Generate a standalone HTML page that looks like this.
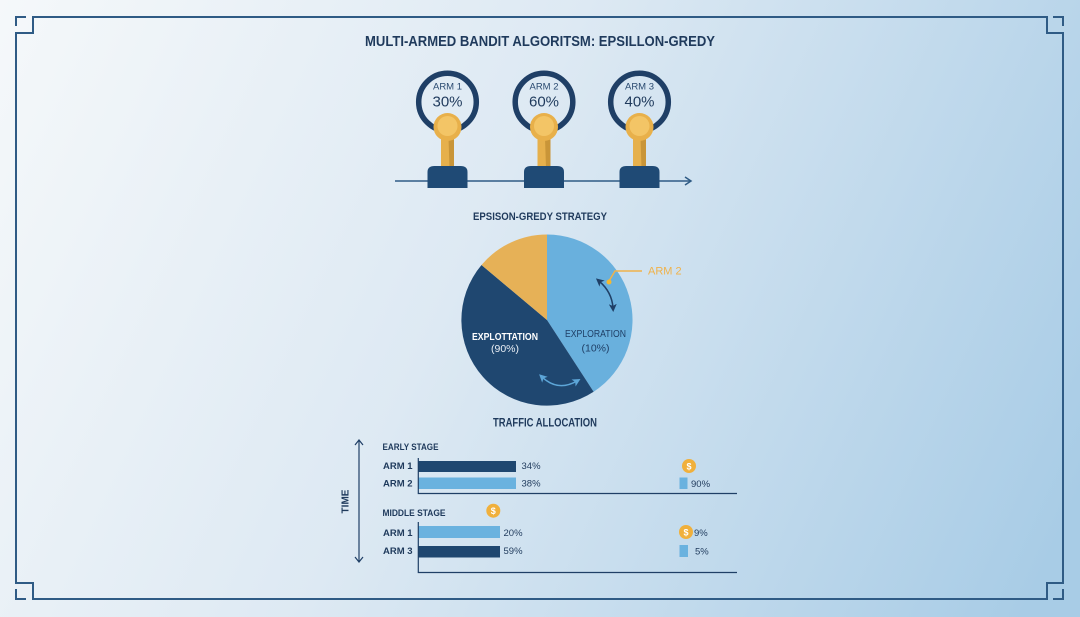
<!DOCTYPE html>
<html><head><meta charset="utf-8"><style>
html,body{margin:0;padding:0;width:1080px;height:617px;overflow:hidden}
svg{display:block}
text{font-family:"Liberation Sans",sans-serif}
</style></head><body>
<svg width="1080" height="617" viewBox="0 0 1080 617" xmlns="http://www.w3.org/2000/svg">
<defs>
<linearGradient id="bg" gradientUnits="userSpaceOnUse" x1="0" y1="0" x2="1080" y2="500">
<stop offset="0" stop-color="#f5f8fa"/>
<stop offset="0.45" stop-color="#dde9f3"/>
<stop offset="1" stop-color="#a8cce6"/>
</linearGradient>
<marker id="ah" markerWidth="8" markerHeight="8" refX="4" refY="4" orient="auto-start-reverse" markerUnits="userSpaceOnUse">
<path d="M0,0 L8,4 L0,8 L2,4 Z" fill="#1f3f66"/></marker>
<marker id="ah2" markerWidth="8" markerHeight="8" refX="4" refY="4" orient="auto-start-reverse" markerUnits="userSpaceOnUse">
<path d="M0,0 L8,4 L0,8 L2,4 Z" fill="#5da6d8"/></marker>
</defs>
<rect width="1080" height="617" fill="url(#bg)"/>
<!-- frame -->
<g fill="none" stroke="#2f5b85" stroke-width="2">
<path d="M33,17 L1047,17 L1047,33 L1063,33 L1063,583 L1047,583 L1047,599 L33,599 L33,583 L16,583 L16,33 L33,33 Z"/>
<path d="M26,17 L16,17 L16,26"/>
<path d="M1053,17 L1063,17 L1063,26"/>
<path d="M16,589 L16,599 L26,599"/>
<path d="M1063,589 L1063,599 L1053,599"/>
</g>
<!-- title -->
<text x="540" y="46" font-size="15" font-weight="bold" fill="#1f3a5c" text-anchor="middle" textLength="350" lengthAdjust="spacingAndGlyphs">MULTI-ARMED BANDIT ALGORITSM: EPSILLON-GREDY</text>
<!-- axis line -->
<line x1="395" y1="181" x2="690" y2="181" stroke="#2f5b85" stroke-width="1.5"/>
<path d="M685,177 L691,181 L685,185" fill="none" stroke="#2f5b85" stroke-width="1.5"/>
<!-- arms -->
<g id="arms">
<g transform="translate(447.5,0)">
<circle cx="0" cy="102" r="28.8" fill="none" stroke="#1f3f66" stroke-width="5.5"/>
<text x="0" y="89.5" font-size="9.5" fill="#2a4a70" text-anchor="middle">ARM 1</text>
<text x="0" y="106.5" font-size="15" fill="#1f3a5c" text-anchor="middle">30%</text>
<path d="M-6.5,138 L6.5,138 L6.5,168 L-6.5,168 Z" fill="#e6b04c"/>
<path d="M1,138 L6.5,138 L6.5,168 L2,168 Z" fill="#c99538"/>
<path d="M-20,188 L-20,172 Q-20,166 -13,166 L13,166 Q20,166 20,172 L20,188 Z" fill="#1f4a75"/>
<circle cx="0" cy="127" r="14" fill="#e8b04a"/>
<circle cx="0" cy="126" r="10" fill="#f3c566"/>
</g>
<g transform="translate(544,0)">
<circle cx="0" cy="102" r="28.8" fill="none" stroke="#1f3f66" stroke-width="5.5"/>
<text x="0" y="89.5" font-size="9.5" fill="#2a4a70" text-anchor="middle">ARM 2</text>
<text x="0" y="106.5" font-size="15" fill="#1f3a5c" text-anchor="middle">60%</text>
<path d="M-6.5,138 L6.5,138 L6.5,168 L-6.5,168 Z" fill="#e6b04c"/>
<path d="M1,138 L6.5,138 L6.5,168 L2,168 Z" fill="#c99538"/>
<path d="M-20,188 L-20,172 Q-20,166 -13,166 L13,166 Q20,166 20,172 L20,188 Z" fill="#1f4a75"/>
<circle cx="0" cy="127" r="14" fill="#e8b04a"/>
<circle cx="0" cy="126" r="10" fill="#f3c566"/>
</g>
<g transform="translate(639.5,0)">
<circle cx="0" cy="102" r="28.8" fill="none" stroke="#1f3f66" stroke-width="5.5"/>
<text x="0" y="89.5" font-size="9.5" fill="#2a4a70" text-anchor="middle">ARM 3</text>
<text x="0" y="106.5" font-size="15" fill="#1f3a5c" text-anchor="middle">40%</text>
<path d="M-6.5,138 L6.5,138 L6.5,168 L-6.5,168 Z" fill="#e6b04c"/>
<path d="M1,138 L6.5,138 L6.5,168 L2,168 Z" fill="#c99538"/>
<path d="M-20,188 L-20,172 Q-20,166 -13,166 L13,166 Q20,166 20,172 L20,188 Z" fill="#1f4a75"/>
<circle cx="0" cy="127" r="14" fill="#e8b04a"/>
<circle cx="0" cy="126" r="10" fill="#f3c566"/>
</g>
</g>
<!-- strategy -->
<text x="540" y="220" font-size="11" font-weight="bold" fill="#1f3a5c" text-anchor="middle" textLength="134" lengthAdjust="spacingAndGlyphs">EPSISON-GREDY STRATEGY</text>
<path d="M547,320 L547,234.5 A85.5,85.5 0 0 1 593.6,391.7 Z" fill="#69b0dd"/>
<path d="M547,320 L593.6,391.7 A85.5,85.5 0 0 1 481.5,265 Z" fill="#1f4770"/>
<path d="M547,320 L481.5,265 A85.5,85.5 0 0 1 547,234.5 Z" fill="#e6b157"/>
<text x="505" y="340" font-size="10.5" font-weight="bold" fill="#ffffff" text-anchor="middle" textLength="66" lengthAdjust="spacingAndGlyphs">EXPLOTTATION</text>
<text x="505" y="352" font-size="10.5" fill="#e8eef5" text-anchor="middle">(90%)</text>
<text x="595.5" y="337" font-size="10.5" fill="#1f3f66" text-anchor="middle" textLength="61" lengthAdjust="spacingAndGlyphs">EXPLORATION</text>
<text x="595.5" y="351.5" font-size="10.5" fill="#1f3f66" text-anchor="middle">(10%)</text>
<!-- ARM 2 callout -->
<path d="M642,271 L615,271 L609,281" fill="none" stroke="#f0b24a" stroke-width="1.5"/>
<circle cx="609" cy="282" r="2.5" fill="#f5b82e"/>
<text x="648" y="274.5" font-size="11" fill="#f0b24a">ARM 2</text>
<!-- arrows -->
<path d="M599,281 Q612,292 613,308" fill="none" stroke="#1f3f66" stroke-width="1.5" marker-start="url(#ah)" marker-end="url(#ah)"/>
<path d="M542,377 Q558,392 577,381" fill="none" stroke="#5da6d8" stroke-width="1.5" marker-start="url(#ah2)" marker-end="url(#ah2)"/>
<text x="545" y="426.5" font-size="11.5" font-weight="bold" fill="#1f3a5c" text-anchor="middle" textLength="104" lengthAdjust="spacingAndGlyphs">TRAFFIC ALLOCATION</text>
<!-- time axis -->
<line x1="359" y1="441" x2="359" y2="561" stroke="#1f3f66" stroke-width="1.2"/>
<path d="M355,445 L359,440 L363,445 M355,557 L359,562 L363,557" fill="none" stroke="#1f3f66" stroke-width="1.2"/>
<text transform="translate(348.5,501.5) rotate(-90)" font-size="10" font-weight="bold" fill="#1f3a5c" text-anchor="middle">TIME</text>
<!-- early stage -->
<g fill="#1f3a5c" font-size="9.5">
<text x="382.5" y="450" font-weight="bold" textLength="56" lengthAdjust="spacingAndGlyphs">EARLY STAGE</text>
<text x="383" y="469" font-weight="bold">ARM 1</text>
<text x="383" y="486.5" font-weight="bold">ARM 2</text>
<text x="521.5" y="469">34%</text>
<text x="521.5" y="486.5">38%</text>
<text x="382.5" y="516" font-weight="bold" textLength="63" lengthAdjust="spacingAndGlyphs">MIDDLE STAGE</text>
<text x="383" y="536" font-weight="bold">ARM 1</text>
<text x="383" y="554" font-weight="bold">ARM 3</text>
<text x="503.5" y="536">20%</text>
<text x="503.5" y="554">59%</text>
<text x="691" y="487">90%</text>
<text x="694" y="536">9%</text>
<text x="695" y="554.5">5%</text>
</g>
<rect x="418" y="461" width="98" height="11" fill="#1f4770"/>
<rect x="418" y="477.5" width="98" height="11.5" fill="#6ab2df"/>
<rect x="418" y="526" width="82" height="12" fill="#6ab2df"/>
<rect x="418" y="546" width="82" height="11.5" fill="#1f4770"/>
<rect x="679.5" y="477.5" width="8" height="11.5" fill="#6ab2df"/>
<rect x="679.5" y="545" width="8.5" height="12" fill="#6ab2df"/>
<g stroke="#1f3f66" stroke-width="1.2" fill="none">
<path d="M418.3,458 L418.3,493.5 L737,493.5"/>
<path d="M418.3,522 L418.3,572.5 L737,572.5"/>
</g>
<!-- coins -->
<g>
<circle cx="689" cy="466" r="7" fill="#f0b03c"/>
<text x="689" y="469.5" font-size="9" font-weight="bold" fill="#fff" text-anchor="middle">$</text>
<circle cx="493.3" cy="510.7" r="7" fill="#f0b03c"/>
<text x="493.3" y="514.2" font-size="9" font-weight="bold" fill="#fff" text-anchor="middle">$</text>
<circle cx="686" cy="532" r="7" fill="#f0b03c"/>
<text x="686" y="535.5" font-size="9" font-weight="bold" fill="#fff" text-anchor="middle">$</text>
</g>
</svg>
</body></html>
